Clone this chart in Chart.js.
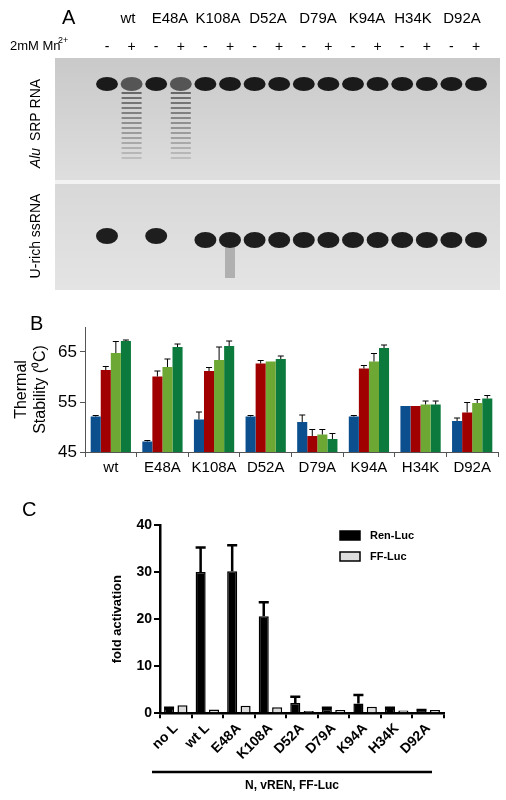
<!DOCTYPE html>
<html><head><meta charset="utf-8">
<script src="https://cdn.jsdelivr.net/npm/chart.js@4"></script>
<style>
body{margin:0;background:#fff;width:506px;height:800px;position:relative;overflow:hidden;font-family:Arial,"Liberation Sans",sans-serif}
.abs{position:absolute}
</style></head><body>
<canvas id="gel" class="abs" style="left:0;top:0" width="506" height="300"></canvas>
<canvas id="cb" class="abs" style="left:0;top:300px;width:506px;height:179px" width="506" height="179"></canvas>
<canvas id="cc" class="abs" style="left:0;top:490px;width:506px;height:310px" width="506" height="310"></canvas>
<script>
// ---- data ----
const mutants = ["wt","E48A","K108A","D52A","D79A","K94A","H34K","D92A"];
const stabBlue   = [52.1,47.1,51.5,52.1,51.0,52.1,54.2,51.2];
const stabRed    = [61.4,60.1,61.2,62.7,48.2,61.7,54.2,52.9];
const stabLGreen = [64.8,62.0,63.4,63.1,48.5,63.1,54.5,54.8];
const stabDGreen = [67.2,66.0,66.2,63.6,47.6,65.8,54.5,55.7];
const errBlue    = [0.2,0.2,1.5,0.2,1.4,0.2,0,0.6];
const errRed     = [0.7,1.1,0.7,0.6,1.3,0.6,0,2.0];
const errLGreen  = [2.3,1.6,2.6,0,1.0,1.6,0.7,0.7];
const errDGreen  = [0.2,0.6,1.0,0.6,1.1,0.6,0.7,0.6];
const stabTicks  = [45,55,65];
const lucCats = ["no L","wt L","E48A","K108A","D52A","D79A","K94A","H34K","D92A"];
const renLuc  = [1.0,30.0,30.2,20.6,2.2,0.9,2.1,1.0,0.6];
const renErr  = [0.2,5.2,5.5,3.0,1.3,0.3,1.8,0.2,0.1];
const ffLuc   = [1.7,0.8,1.6,1.3,0.5,0.7,1.4,0.6,0.7];
const lucTicks = [0,10,20,30,40];

// ---- gel (panel A illustration) ----
(function(){
 const c=document.getElementById('gel').getContext('2d');
 c.fillStyle='#000';c.font='20px Arial';c.fillText('A',62,24);
 c.font='15px Arial';
 const hx=[128,170,218,268,318,367,413,462];
 mutants.forEach((m,i)=>{c.textAlign='center';c.fillText(m,hx[i],23);});
 c.textAlign='left';c.font='13px Arial';c.fillText('2mM Mn',10,50);
 c.font='9px Arial';c.fillText('2+',58,43);
 c.font='14px Arial';c.textAlign='center';
 const lanes=[];for(let i=0;i<16;i++)lanes.push(107+i*24.6);
 lanes.forEach((x,i)=>c.fillText(i%2?'+':'-',x,51));
 let g=c.createLinearGradient(0,58,0,180);g.addColorStop(0,'#c9c9c9');g.addColorStop(1,'#dedede');
 c.fillStyle=g;c.fillRect(55,58,445,122);
 c.fillStyle='#f2f2f2';c.fillRect(55,180,445,4);
 g=c.createLinearGradient(0,184,0,290);g.addColorStop(0,'#d8d8d8');g.addColorStop(1,'#e4e4e4');
 c.fillStyle=g;c.fillRect(55,184,445,106);
 lanes.forEach((x,i)=>{
  const strong=!(i===1||i===3);
  c.fillStyle=strong?'#1a1a1a':'#555';
  c.beginPath();c.ellipse(x,84,11,7,0,0,Math.PI*2);c.fill();
  if(i===1||i===3){for(let k=0;k<14;k++){c.fillStyle='rgba(60,60,60,'+(0.7-k*0.04)+')';c.fillRect(x-10,92+k*5,20,2);}}
 });
 lanes.forEach((x,i)=>{
  if(i===1||i===3)return;
  const y=(i===0||i===2)?236:240;
  c.fillStyle='#1e1e1e';c.beginPath();c.ellipse(x,y,11,8,0,0,Math.PI*2);c.fill();
 });
 c.fillStyle='#b0b0b0';c.fillRect(225,248,10,30);
 c.save();c.fillStyle='#000';c.textAlign='center';
 c.translate(40,128);c.rotate(-Math.PI/2);c.font='italic 14px Arial';c.fillText('Alu',-30,0);c.font='14px Arial';c.fillText('SRP RNA',18,0);c.restore();
 c.save();c.font='14px Arial';c.textAlign='center';c.fillStyle='#000';c.translate(40,236);c.rotate(-Math.PI/2);c.fillText('U-rich ssRNA',0,0);c.restore();
})();

// ---- error bar plugin ----
const errPlugin={id:'err',afterDatasetsDraw(ch){
 const c=ch.ctx;c.save();
 ch.data.datasets.forEach((d,di)=>{
  if(!d.errors)return;const meta=ch.getDatasetMeta(di);const ys=ch.scales.y;
  meta.data.forEach((b,i)=>{const e=d.errors[i];if(!e)return;
   const y0=ys.getPixelForValue(d.data[i]),y1=ys.getPixelForValue(d.data[i]+e);
   const w=b.width*(d.capFrac||0.3);
   c.strokeStyle=d.errColor||'#000';c.lineWidth=d.errWidth||1;
   c.beginPath();c.moveTo(b.x,y0);c.lineTo(b.x,y1);c.moveTo(b.x-w,y1);c.lineTo(b.x+w,y1);c.stroke();});
 });c.restore();}};

// ---- panel B ----
new Chart(document.getElementById('cb'),{type:'bar',
 data:{labels:mutants,datasets:[
  {data:stabBlue,errors:errBlue,backgroundColor:'#0b4f8e'},
  {data:stabRed,errors:errRed,backgroundColor:'#a00000'},
  {data:stabLGreen,errors:errLGreen,backgroundColor:'#6ea834'},
  {data:stabDGreen,errors:errDGreen,backgroundColor:'#0c7a3c'}]},
 options:{responsive:false,animation:false,maintainAspectRatio:false,
  layout:{padding:{left:12,right:8,top:27,bottom:0}},
  datasets:{bar:{barPercentage:1,categoryPercentage:0.78}},
  plugins:{legend:{display:false},tooltip:{enabled:false}},
  scales:{
   x:{grid:{display:true,offset:true,drawOnChartArea:false,tickLength:5,color:'#555'},border:{color:'#555'},
      ticks:{color:'#000',font:{size:15,family:'Arial'},padding:2,autoSkip:false,maxRotation:0}},
   y:{min:45,max:70,afterBuildTicks(s){s.ticks=stabTicks.map(v=>({value:v}));},
      afterFit(s){s.width=73;},
      grid:{display:true,drawOnChartArea:false,tickLength:5,color:'#555'},border:{color:'#555'},
      ticks:{color:'#000',font:{size:17,family:'Arial'},padding:3},
      title:{display:true,text:['Thermal','Stability (⁰C)'],color:'#000',font:{size:16,family:'Arial'},padding:0}}}},
 plugins:[errPlugin,{id:'lbl',afterDraw(ch){const c=ch.ctx;c.save();c.font='20px Arial';c.fillStyle='#000';c.fillText('B',30,30);c.restore();}}]});

// ---- panel C ----
new Chart(document.getElementById('cc'),{type:'bar',
 data:{labels:lucCats,datasets:[
  {label:'Ren-Luc',data:renLuc,errors:renErr,errWidth:2.5,capFrac:0.5,backgroundColor:'#000',borderColor:'#000',borderWidth:1.5},
  {label:'FF-Luc',data:ffLuc,backgroundColor:'#dcdcdc',borderColor:'#000',borderWidth:1.5}]},
 options:{responsive:false,animation:false,maintainAspectRatio:false,
  layout:{padding:{left:110,right:62,top:35,bottom:35}},
  datasets:{bar:{barPercentage:0.75,categoryPercentage:0.85}},
  plugins:{legend:{display:false},tooltip:{enabled:false}},
  scales:{
   x:{grid:{display:true,offset:true,drawOnChartArea:false,tickLength:5,color:'#000',lineWidth:2},border:{color:'#000',width:2.5},
      ticks:{color:'#000',font:{size:14,weight:'bold',family:'Arial'},maxRotation:45,minRotation:45,padding:2,autoSkip:false}},
   y:{min:0,max:40,afterBuildTicks(s){s.ticks=lucTicks.map(v=>({value:v}));},
      afterFit(s){s.width=50;},
      grid:{display:true,drawOnChartArea:false,tickLength:6,color:'#000',lineWidth:2},border:{color:'#000',width:2.5},
      ticks:{color:'#000',font:{size:14,weight:'bold',family:'Arial'},padding:2},
      title:{display:true,text:'fold activation',color:'#000',font:{size:13,weight:'bold',family:'Arial'},padding:{top:0,bottom:0}}}}},
 plugins:[errPlugin,{id:'extra',afterDraw(ch){const c=ch.ctx;c.save();
  c.font='20px Arial';c.fillStyle='#000';c.fillText('C',22,26);
  ch.data.datasets.forEach((d,i)=>{const y=46+i*21;c.fillStyle=d.backgroundColor;c.strokeStyle='#000';c.lineWidth=1.5;
   c.fillRect(340,y-5,20,9);c.strokeRect(340,y-5,20,9);c.fillStyle='#000';c.font='bold 11px Arial';c.textBaseline='middle';c.fillText(d.label,370,y);});
  c.lineWidth=2.5;c.beginPath();c.moveTo(152,282);c.lineTo(432,282);c.stroke();
  c.font='bold 12px Arial';c.textAlign='center';c.fillText('N, vREN, FF-Luc',292,296);
  c.restore();}}]});
</script></body></html>
